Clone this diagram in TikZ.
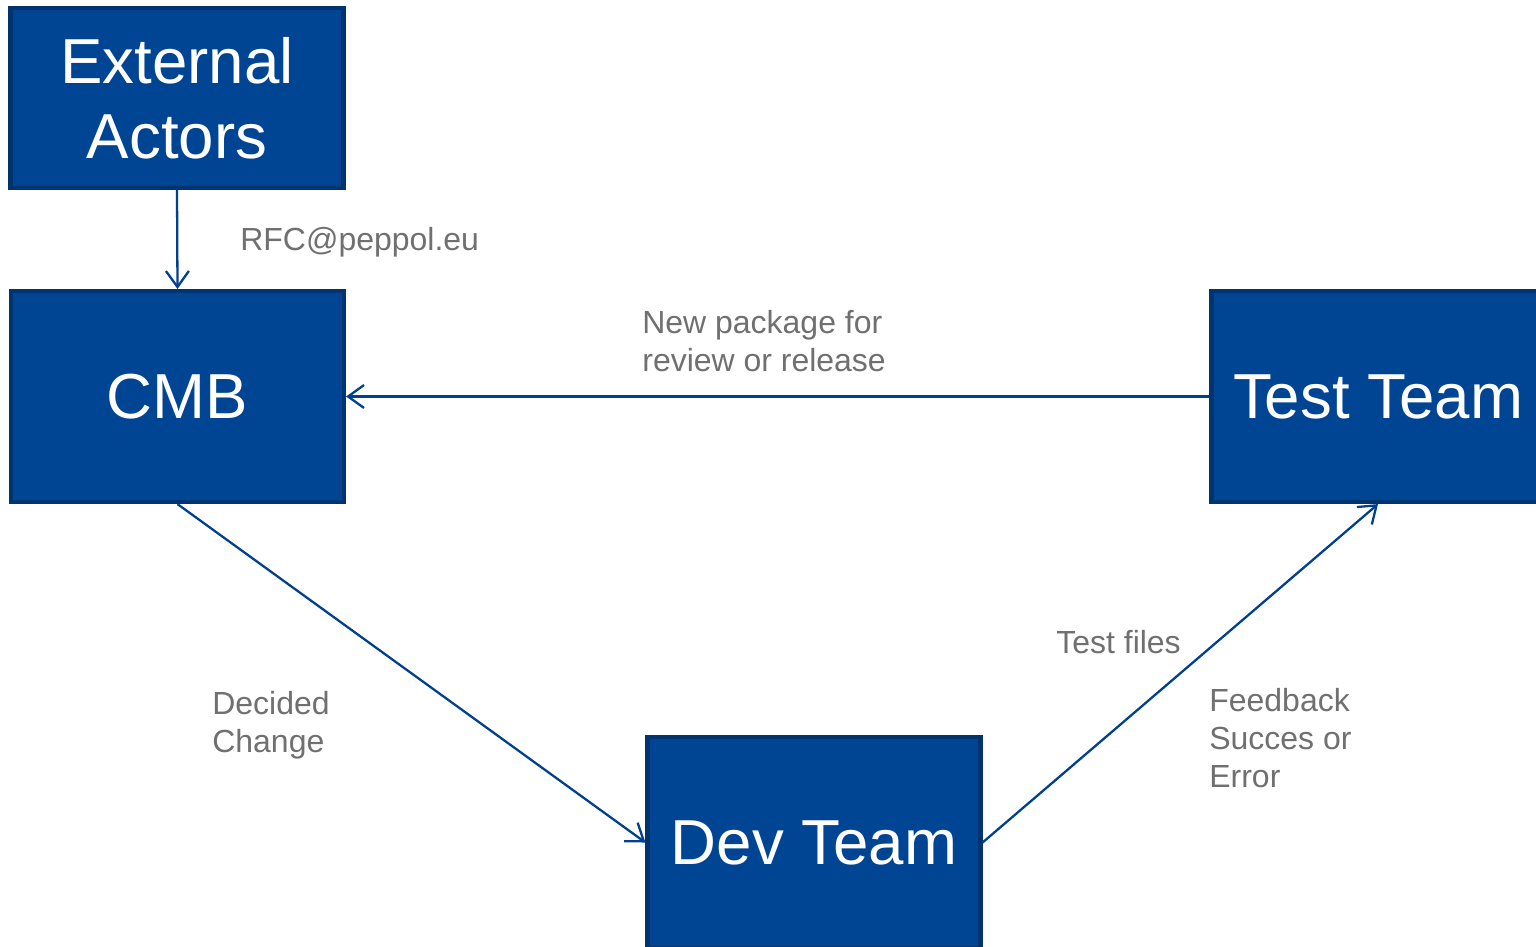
\documentclass[tikz,border=0pt]{standalone}
\usepackage{fontspec}
\setmainfont{Liberation Sans}
\usepackage{tikz}
\usetikzlibrary{arrows.meta,positioning}

\definecolor{boxblue}{HTML}{004494}
\definecolor{boxedge}{HTML}{00346F}
\definecolor{linkblue}{HTML}{00408F}
\definecolor{labelgray}{HTML}{707070}

\tikzset{
  teambox/.style={rectangle,fill=boxblue,draw=boxedge,line width=2.4pt,
    minimum width=6.66cm,minimum height=4.22cm,text=white,align=center,
    font=\fontsize{36.2}{42.7}\selectfont},
  link/.style={draw=linkblue,line width=1.3pt,-{Straight Barb[length=3.2mm,width=4.6mm]}},
  linklabel/.style={anchor=west,inner sep=0pt,align=left,text=labelgray,
    font=\fontsize{18.2}{21.6}\selectfont}
}

\begin{document}
\begin{tikzpicture}[x=0.02cm,y=-0.02cm]
\clip (0,0) rectangle (1536,947);
\fill[white] (0,0) rectangle (1536,947);
\node[teambox,minimum height=3.6cm] (actors) at (177,98) {External\\Actors};
\node[teambox] (cmb) at (177.5,396.5) {CMB};
\node[teambox] (test) at (1378,396.5) {Test Team};
\node[teambox] (dev) at (814,842.5) {Dev Team};
\draw[link] (actors.south) -- (cmb.north);
\draw[link] (test.west) -- (cmb.east);
\draw[link] (cmb.south) -- (dev.west);
\draw[link] (dev.east) -- (test.south);
\node[linklabel] (rfc) at (240,242) {RFC@peppol.eu};
\node[linklabel] (release) at (642,341) {New package for\\review or release};
\node[linklabel] (decided) at (212,725) {Decided\\Change};
\node[linklabel] (files) at (1056,642) {Test files};
\node[linklabel] (feedback) at (1209,738) {Feedback\\Succes or\\Error};
\end{tikzpicture}
\end{document}
